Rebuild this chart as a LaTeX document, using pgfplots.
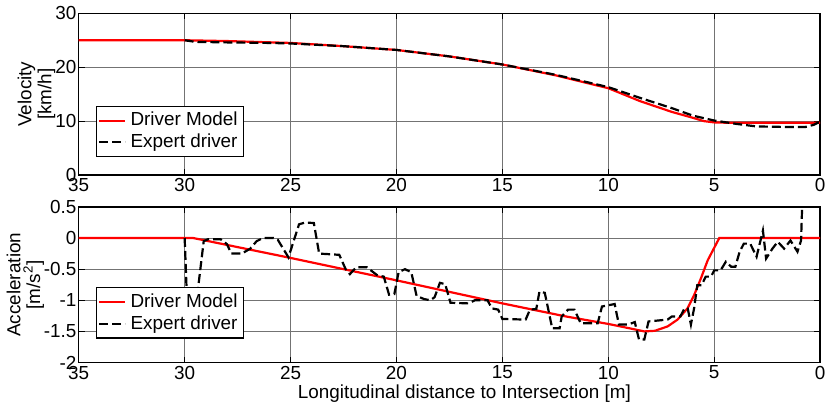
\documentclass[border=0pt]{standalone}
\usepackage{fontspec}
\setmainfont{Liberation Sans}
\usepackage{pgfplots}
\pgfplotsset{compat=1.18}

\pgfplotsset{
  matlabish/.style={
    scale only axis,
    width=371.5bp,
    font=\fontsize{9.5}{10}\selectfont,
    xmin=0, xmax=35, x dir=reverse,
    xtick={0,5,10,15,20,25,30,35},
    grid=major,
    grid style={black!55, line width=0.5bp},
    axis line style={line width=0.7bp},
    tick style={black, line width=0.5bp},
    major tick length=3bp,
    tick align=inside,
    /pgf/number format/assume math mode=true,
    yticklabel style={inner xsep=1bp},
    xticklabel style={inner ysep=1.5bp},
    legend cell align=left,
    legend style={font=\fontsize{9.5}{10}\selectfont, inner sep=1bp,
      row sep=-1.5bp, draw=black, line width=0.6bp},
    legend image code/.code={\draw[#1] (0bp,0bp) -- (13bp,0bp);},
  },
  model/.style={red, line width=1.1bp},
  expert/.style={black, line width=1.1bp, dash pattern=on 4.5bp off 2bp},
}

\begin{document}
\begin{tikzpicture}

% velocity
\begin{axis}[matlabish,
    at={(0,94bp)}, anchor=south west,
    height=81bp,
    ymin=0, ymax=30, ytick={0,10,20,30},
    ylabel={Velocity\\{}[km/h]},
    ylabel style={at={(axis description cs:-0.057,0.5)}, anchor=center, align=center},
    legend style={at={(0.023,0.11)}, anchor=south west},
]
\addplot[model] coordinates {
    (35,25) (30,25) (28,24.85) (25,24.5) (22.5,23.9) (20,23.2) (17.5,22.0)
    (15,20.5) (12.5,18.5) (10,16.1) (8.5,13.7) (7,11.7) (6,10.6) (5.5,10.0)
    (5,9.75) (4.5,9.7) (0,9.7)
};
\addplot[expert] coordinates {
    (30,25) (29.5,24.7) (28,24.6) (26,24.5) (25,24.4) (22.5,23.9) (20,23.2)
    (17.5,22.0) (15,20.5) (12.5,18.6) (10,16.3) (8.5,14.3) (7,12.4) (6,11.0)
    (5,10.1) (4,9.5) (3,9.0) (1.5,8.9) (0.7,8.9) (0.3,9.3) (0,9.9)
};
\legend{Driver Model, Expert driver}
\end{axis}

% acceleration
\begin{axis}[matlabish,
    at={(0,0)}, anchor=south west,
    height=78bp,
    ymin=-2, ymax=0.5, ytick={-2,-1.5,-1,-0.5,0,0.5},
    ylabel={Acceleration\\{}[m/s\textsuperscript{2}]},
    ylabel style={at={(axis description cs:-0.072,0.5)}, anchor=center, align=center},
    xlabel={Longitudinal distance to Intersection [m]},
    xlabel style={xshift=7.5bp, inner sep=1bp},
    legend style={at={(0.023,0.154)}, anchor=south west},
]
\addplot[model] coordinates {
    (35,0) (29.6,0) (25,-0.32) (20,-0.68) (15,-1.05) (12,-1.26) (10,-1.38)
    (9,-1.45) (8.3,-1.5) (7.8,-1.49) (7.2,-1.42) (6.73,-1.31) (6.26,-1.13)
    (5.94,-0.91) (5.63,-0.65) (5.31,-0.36) (4.76,0) (0,0)
};
\addplot[expert] coordinates {
    (30,0) (29.9,-0.9) (29.4,-0.9) (29.1,-0.05) (28.9,-0.02) (28.3,-0.02)
    (28.0,-0.1) (27.8,-0.25) (27.3,-0.25) (26.9,-0.17) (26.6,-0.05) (26.3,0)
    (25.8,0) (25.6,-0.03) (25.1,-0.31) (24.6,0.22) (24.3,0.25) (23.9,0.24)
    (23.65,-0.25) (22.7,-0.27) (22.4,-0.5) (22.2,-0.58) (21.9,-0.47)
    (21.4,-0.47) (20.9,-0.6) (20.6,-0.62) (20.35,-0.91) (20.1,-0.9)
    (19.9,-0.55) (19.6,-0.5) (19.3,-0.55) (19.05,-0.93) (18.7,-0.98)
    (18.4,-1.0) (18.2,-0.95) (17.95,-0.72) (17.7,-0.74) (17.45,-1.04)
    (16.6,-1.05) (16.3,-1.0) (15.7,-1.0) (15.5,-1.13) (15.2,-1.15)
    (15.0,-1.3) (13.9,-1.31) (13.7,-1.15) (13.4,-1.14) (13.25,-0.86)
    (13.0,-0.88) (12.8,-1.2) (12.65,-1.45) (12.3,-1.45) (12.2,-1.26)
    (11.9,-1.15) (11.6,-1.15) (11.3,-1.37) (10.5,-1.37) (10.3,-1.1)
    (9.7,-1.06) (9.5,-1.39) (9.06,-1.39) (8.75,-1.35) (8.55,-1.63)
    (8.3,-1.63) (8.1,-1.34) (7.2,-1.31) (7.0,-1.26) (6.6,-1.26) (6.4,-1.13)
    (6.25,-1.13) (6.1,-1.39) (5.95,-1.13) (5.8,-0.76) (5.6,-0.76)
    (5.4,-0.62) (5.15,-0.62) (5.0,-0.52) (4.7,-0.52) (4.45,-0.38)
    (4.2,-0.46) (4.0,-0.46) (3.8,-0.22) (3.6,-0.09) (3.3,-0.09) (3.0,-0.3)
    (2.7,0.12) (2.55,-0.33) (2.25,-0.17) (2.0,-0.06) (1.7,-0.17) (1.4,-0.04)
    (1.07,-0.22) (0.9,-0.04) (0.84,0.6)
};
\legend{Driver Model, Expert driver}
\end{axis}

\end{tikzpicture}
\end{document}
